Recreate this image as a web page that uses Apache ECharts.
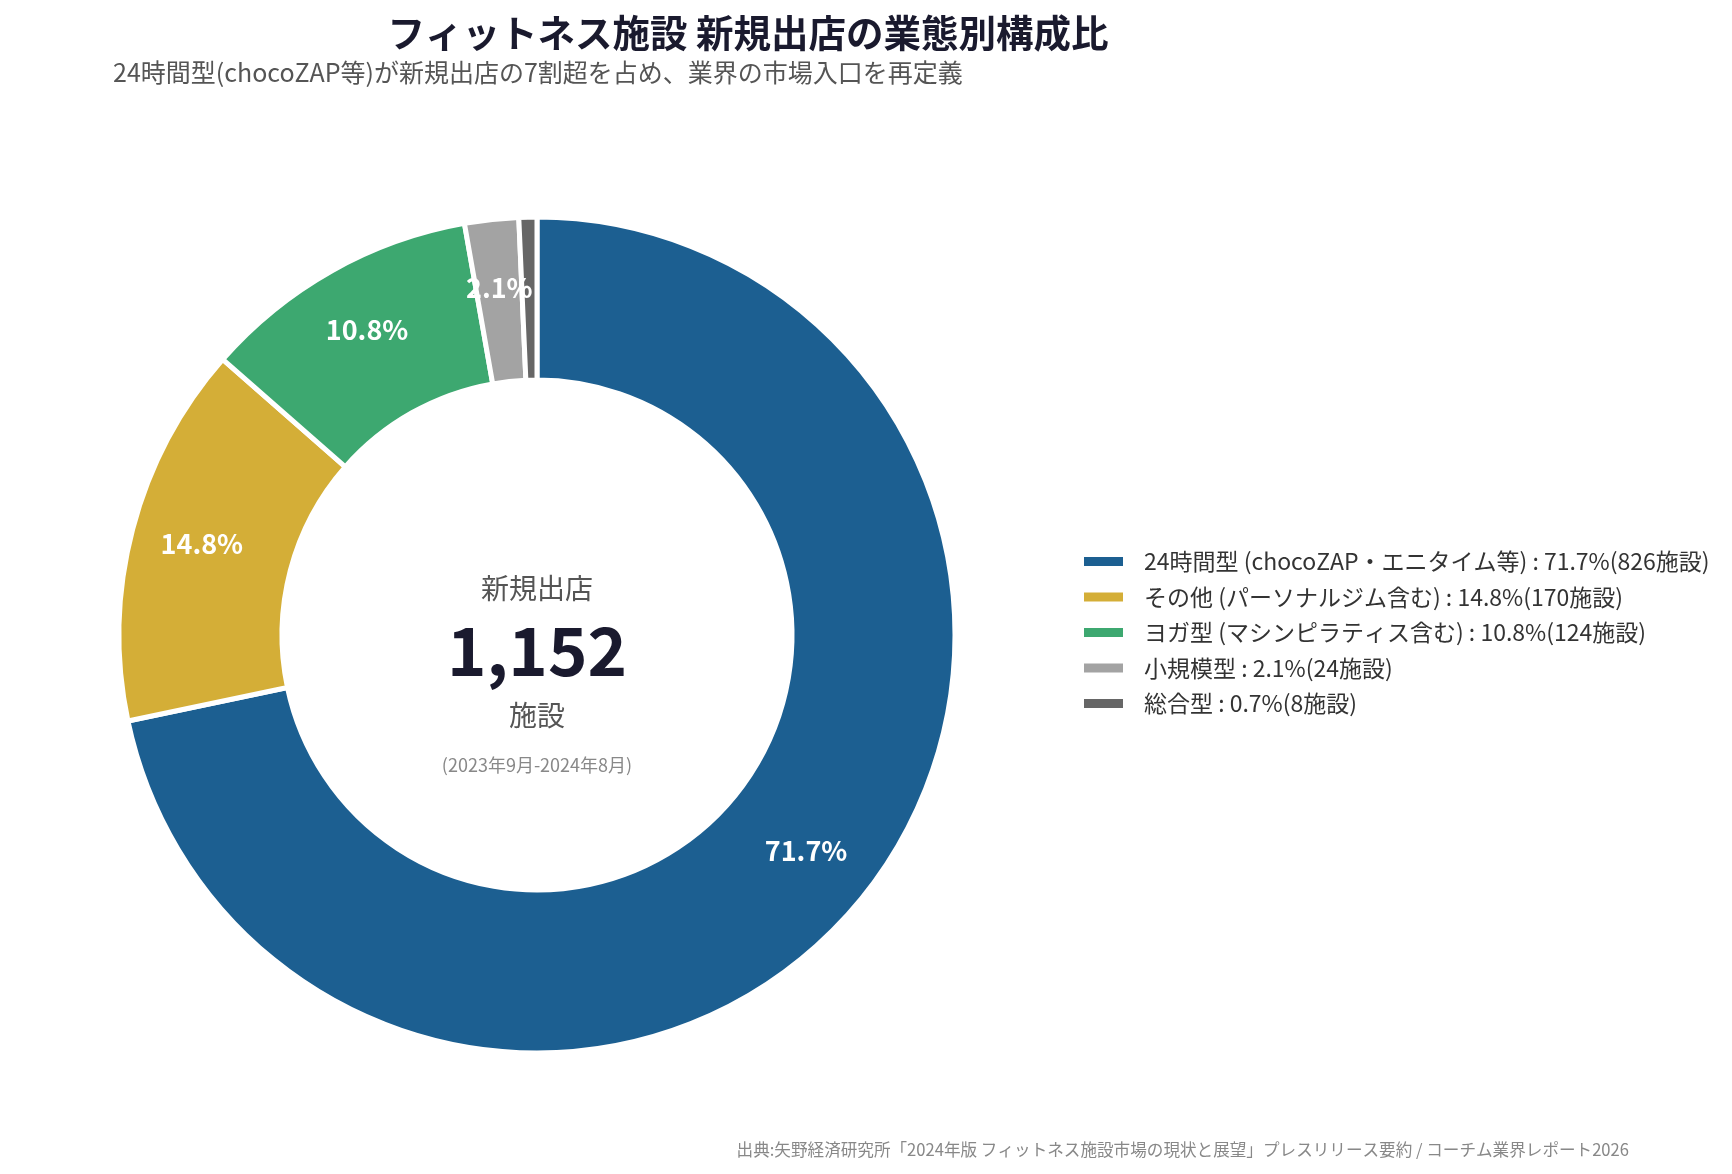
<!DOCTYPE html>
<html>
<head>
<meta charset="utf-8">
<script src="https://cdn.jsdelivr.net/npm/echarts@6/dist/echarts.min.js"></script>
<style>
html,body{margin:0;padding:0;background:#fff;}
#c{width:1732px;height:1174px;}
</style>
</head>
<body>
<div id="c"></div>
<script>
const categories = ['24時間型 (chocoZAP・エニタイム等)', 'その他 (パーソナルジム含む)', 'ヨガ型 (マシンピラティス含む)', '小規模型', '総合型'];
const counts = [826, 170, 124, 24, 8];
const percents = ['71.7', '14.8', '10.8', '2.1', '0.7'];
const colors = ['#1c5f91', '#d4ae37', '#3da870', '#a3a3a3', '#666666'];
const showLabel = [true, true, true, true, false];
const totalLabel = '1,152';

const FONT = '"Noto Sans CJK JP", "Noto Sans", sans-serif';
const chart = echarts.init(document.getElementById('c'));

const CX = 537, CY = 635;

const data = categories.map((n, i) => ({
  name: n,
  value: counts[i],
  itemStyle: { color: colors[i] }
}));
const labelData = categories.map((n, i) => ({
  name: n,
  value: counts[i],
  label: { show: showLabel[i] }
}));

chart.setOption({
  backgroundColor: '#ffffff',
  textStyle: { fontFamily: FONT },
  legend: {
    orient: 'vertical',
    left: 1077,
    top: 545,
    itemWidth: 41,
    itemHeight: 11,
    itemGap: 12.5,
    icon: 'rect',
    textStyle: { fontSize: 23, color: '#333333', fontFamily: FONT, padding: [0, 0, 0, 15], lineHeight: 23 },
    formatter: function (name) {
      const i = categories.indexOf(name);
      return name + ' : ' + percents[i] + '%(' + counts[i] + '施設)';
    },
    data: categories
  },
  series: [{
    type: 'pie',
    center: [CX, CY],
    radius: [255, 418],
    startAngle: 90,
    clockwise: true,
    avoidLabelOverlap: false,
    itemStyle: { borderColor: '#ffffff', borderWidth: 5 },
    label: { show: false },
    labelLine: { show: false },
    emphasis: { disabled: true },
    data: data
  }, {
    type: 'pie',
    center: [CX, CY],
    radius: [294, 393],
    startAngle: 90,
    clockwise: true,
    silent: true,
    avoidLabelOverlap: false,
    itemStyle: { color: 'rgba(0,0,0,0)', borderWidth: 0 },
    label: {
      position: 'inside',
      color: '#ffffff',
      fontSize: 27,
      fontWeight: 'bold',
      fontFamily: FONT,
      offset: [0, -3],
      formatter: function (p) { return percents[p.dataIndex] + '%'; }
    },
    labelLine: { show: false },
    emphasis: { disabled: true },
    data: labelData
  }],
  graphic: [
    { type: 'text', x: 748, y: 33, style: { text: 'フィットネス施設 新規出店の業態別構成比', font: 'bold 37.5px ' + FONT, fill: '#1a1a2e', textAlign: 'center', textVerticalAlign: 'middle' } },
    { type: 'text', x: 113, y: 72, style: { text: '24時間型(chocoZAP等)が新規出店の7割超を占め、業界の市場入口を再定義', font: '25px ' + FONT, fill: '#555555', textAlign: 'left', textVerticalAlign: 'middle' } },
    { type: 'text', x: CX, y: 588, style: { text: '新規出店', font: '28px ' + FONT, fill: '#555555', textAlign: 'center', textVerticalAlign: 'middle' } },
    { type: 'text', x: CX, y: 651, style: { text: totalLabel, font: 'bold 67px ' + FONT, fill: '#1a1a2e', textAlign: 'center', textVerticalAlign: 'middle' } },
    { type: 'text', x: CX, y: 715, style: { text: '施設', font: '28px ' + FONT, fill: '#555555', textAlign: 'center', textVerticalAlign: 'middle' } },
    { type: 'text', x: CX, y: 765, style: { text: '(2023年9月-2024年8月)', font: '18px ' + FONT, fill: '#888888', textAlign: 'center', textVerticalAlign: 'middle' } },
    { type: 'text', x: 1629, y: 1150, style: { text: '出典:矢野経済研究所「2024年版 フィットネス施設市場の現状と展望」プレスリリース要約 / コーチム業界レポート2026', font: '16.6px ' + FONT, fill: '#888888', textAlign: 'right', textVerticalAlign: 'middle' } }
  ]
});
</script>
</body>
</html>
